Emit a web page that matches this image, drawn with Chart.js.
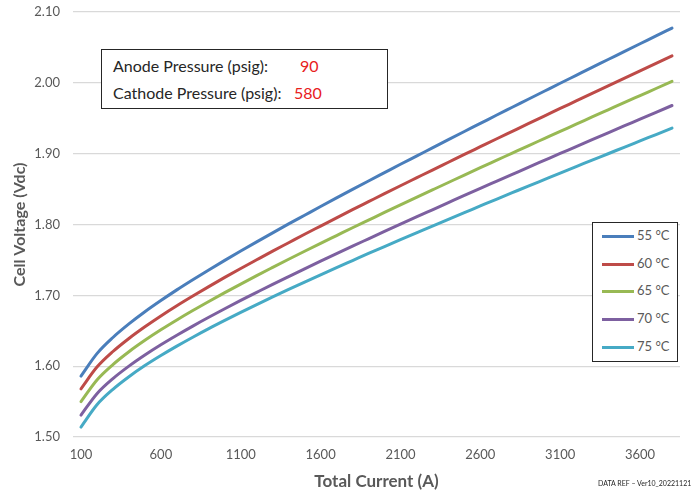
<!DOCTYPE html>
<html><head><meta charset="utf-8">
<script src="https://cdn.jsdelivr.net/npm/chart.js@4"></script>
<style>
body{margin:0;background:#fff;}
#wrap{position:relative;width:697px;height:492px;font-family:Lato,"Open Sans",sans-serif;}
#c{display:block;}
#info{position:absolute;left:101px;top:49px;width:287px;height:60px;border:1.5px solid #262626;box-sizing:border-box;font-size:16px;color:#262626;background:#fff;}
#info .row{position:absolute;left:11px;white-space:nowrap;}
#info .val{position:absolute;color:#e8201c;}
#legend{position:absolute;left:592px;top:222px;width:86px;height:140px;border:1.5px solid #262626;box-sizing:border-box;background:#fff;}
#legend .item{position:absolute;left:9px;height:14px;font-size:13px;color:#595959;white-space:nowrap;}
#legend .sw{position:absolute;left:0;top:6px;width:32px;height:3px;}
#legend .lb{position:absolute;left:35px;top:-2px;}
#ref{position:absolute;left:598px;top:479px;font-size:7px;color:#262626;white-space:nowrap;}
</style>
</head><body>
<div id="wrap">
<canvas id="c" width="697" height="492"></canvas>
<div id="info"></div>
<div id="legend"></div>
<div id="ref">DATA REF – Ver10_20221121</div>
</div>
<script>
const currents = [100,200,300,400,500,600,700,800,900,1000,1100,1200,1300,1400,1500,1600,1700,1800,1900,2000,2100,2200,2300,2400,2500,2600,2700,2800,2900,3000,3100,3200,3300,3400,3500,3600,3700,3800];
const seriesNames = ["55 °C","60 °C","65 °C","70 °C","75 °C"];
const v55 = [1.5860,1.6177,1.6405,1.6596,1.6768,1.6926,1.7077,1.7220,1.7359,1.7494,1.7626,1.7755,1.7882,1.8008,1.8131,1.8254,1.8375,1.8495,1.8614,1.8732,1.8850,1.8966,1.9082,1.9198,1.9313,1.9427,1.9542,1.9655,1.9768,1.9881,1.9994,2.0106,2.0218,2.0329,2.0441,2.0552,2.0662,2.0773];
const v60 = [1.5680,1.5987,1.6207,1.6391,1.6556,1.6709,1.6853,1.6990,1.7123,1.7253,1.7379,1.7502,1.7624,1.7743,1.7862,1.7978,1.8094,1.8209,1.8322,1.8435,1.8547,1.8658,1.8769,1.8879,1.8989,1.9098,1.9207,1.9315,1.9423,1.9530,1.9638,1.9744,1.9851,1.9957,2.0063,2.0169,2.0275,2.0380];
const v65 = [1.5500,1.5806,1.6023,1.6204,1.6365,1.6513,1.6652,1.6785,1.6913,1.7038,1.7159,1.7278,1.7394,1.7509,1.7622,1.7734,1.7844,1.7954,1.8062,1.8170,1.8277,1.8383,1.8488,1.8593,1.8698,1.8802,1.8905,1.9008,1.9111,1.9213,1.9315,1.9416,1.9518,1.9619,1.9720,1.9820,1.9920,2.0020];
const v70 = [1.5310,1.5612,1.5825,1.6001,1.6158,1.6302,1.6437,1.6566,1.6690,1.6810,1.6928,1.7042,1.7155,1.7265,1.7374,1.7482,1.7588,1.7694,1.7798,1.7902,1.8005,1.8107,1.8208,1.8309,1.8410,1.8510,1.8609,1.8708,1.8807,1.8905,1.9003,1.9100,1.9198,1.9295,1.9391,1.9488,1.9584,1.9680];
const v75 = [1.5140,1.5455,1.5673,1.5851,1.6008,1.6150,1.6283,1.6409,1.6530,1.6646,1.6759,1.6870,1.6977,1.7083,1.7187,1.7290,1.7391,1.7491,1.7591,1.7689,1.7786,1.7882,1.7978,1.8074,1.8168,1.8262,1.8356,1.8449,1.8542,1.8634,1.8726,1.8817,1.8909,1.8999,1.9090,1.9180,1.9270,1.9360];
const yTicks = [1.50,1.60,1.70,1.80,1.90,2.00,2.10];
const xTickLabels = [100,600,1100,1600,2100,2600,3100,3600];
const infoLabels = ["Anode Pressure (psig):","Cathode Pressure (psig):"];
const infoValues = ["90","580"];
const colors = ["#4a7ebb","#be4b48","#98b954","#7d60a0","#46aac5"];

const allSeries = [v55,v60,v65,v70,v75];
const datasets = allSeries.map((d,i)=>({
  label: seriesNames[i], data: d, borderColor: colors[i], backgroundColor: colors[i],
  borderWidth: 3, pointRadius: 0, cubicInterpolationMode: 'monotone', fill: false, borderCapStyle: 'round'
}));

const txt = '#595959';
new Chart(document.getElementById('c'), {
  type: 'line',
  data: { labels: currents, datasets },
  options: {
    responsive: false, animation: false,
    layout: { padding: { top: 12, right: 17, bottom: 0, left: 0 } },
    plugins: { legend: { display: false }, tooltip: { enabled: false } },
    scales: {
      x: {
        type: 'category', offset: true,
        grid: { display: false, drawTicks: false },
        border: { display: false },
        ticks: {
          autoSkip: false, maxRotation: 0, padding: 10, color: txt,
          font: { family: 'Lato', size: 13 },
          callback: function(v, i) { const l = currents[i]; return xTickLabels.includes(l) ? String(l) : null; }
        },
        title: { display: true, text: 'Total Current (A)', color: txt, font: { family: 'Lato', size: 17, weight: 'bold' }, padding: 0 },
        afterFit: s => { s.height = 55; s.paddingLeft = 0; s.paddingRight = 0; }
      },
      y: {
        min: 1.5, max: 2.1,
        afterBuildTicks: s => { s.ticks = yTicks.map(v => ({ value: v })); },
        grid: { color: '#d9d9d9', lineWidth: 1.2, drawTicks: false },
        border: { display: false },
        ticks: { padding: 13, color: txt, font: { family: 'Lato', size: 13 }, callback: v => Number(v).toFixed(2) },
        title: { display: true, text: 'Cell Voltage (Vdc)', color: txt, font: { family: 'Lato', size: 16, weight: 'bold' }, padding: 10 },
        afterFit: s => { s.width = 73; s.paddingTop = 0; s.paddingBottom = 0; }
      }
    }
  }
});

// info box
const info = document.getElementById('info');
const valX = [198, 192];
infoLabels.forEach((t,i)=>{
  const r = document.createElement('div'); r.className='row'; r.style.top = (6 + i*26.5) + 'px'; r.textContent = t; info.appendChild(r);
  const v = document.createElement('div'); v.className='val'; v.style.top = (6 + i*26.5) + 'px'; v.style.left = valX[i] + 'px'; v.textContent = infoValues[i]; info.appendChild(v);
});
// legend
const lg = document.getElementById('legend');
datasets.forEach((d,i)=>{
  const it = document.createElement('div'); it.className='item'; it.style.top = (6 + i*27.7) + 'px';
  const sw = document.createElement('div'); sw.className='sw'; sw.style.background = d.borderColor;
  const lb = document.createElement('div'); lb.className='lb'; lb.textContent = d.label;
  it.appendChild(sw); it.appendChild(lb); lg.appendChild(it);
});
</script>
</body></html>
